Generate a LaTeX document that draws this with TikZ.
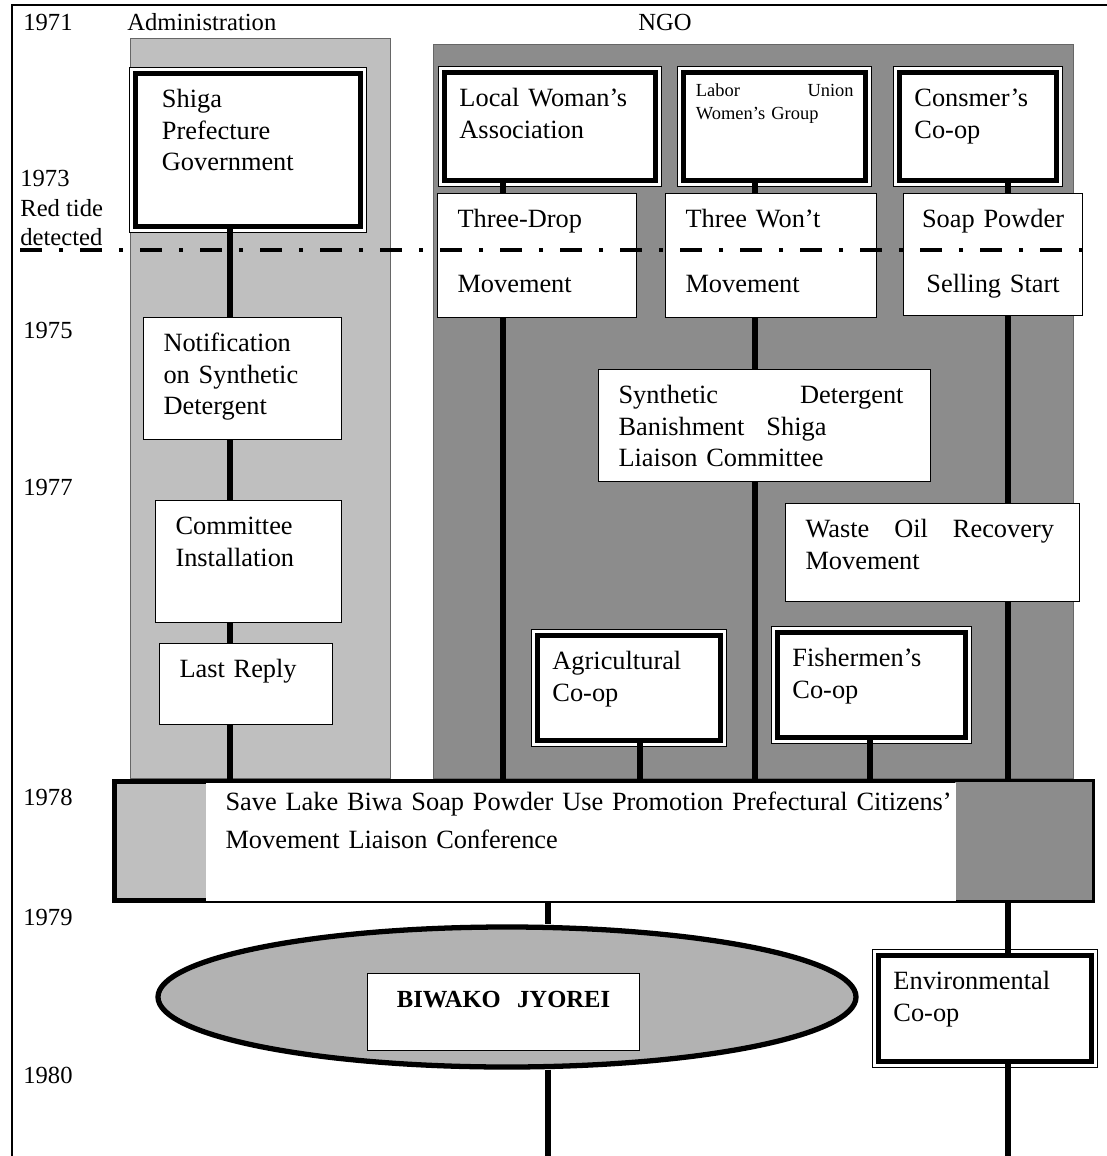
\documentclass[tikz,border=0pt]{standalone}
\usepackage{fontspec}
\setmainfont{Liberation Serif}
\usetikzlibrary{shapes.geometric}
\colorlet{admshade}{black!25}
\colorlet{ngoshade}{black!45}
\colorlet{ovalshade}{black!30}

\begin{document}
\begin{tikzpicture}[x=0.2mm, y=-0.2mm, font=\fontsize{15}{18}\selectfont]
  \useasboundingbox (0,0) rectangle (1107,1156);
  \tikzstyle{head}=[anchor=west, inner sep=0pt, font=\fontsize{14}{17}\selectfont]
  \tikzstyle{cell}=[draw, line width=0.6pt, fill=white, anchor=north west, align=left,
      inner xsep=4mm, inner ysep=3.3mm, text height=10pt]
  \tikzstyle{orgbox}=[cell, line width=2.8pt, inner xsep=3mm,
      preaction={draw, line width=7.4pt}, preaction={draw=white, line width=6.3pt}]
  \tikzstyle{link}=[line width=3pt]

  % frame and the two columns
  \draw[line width=0.6pt] (12,1156) -- (12,5) -- (1107,5);
  \filldraw[fill=admshade, draw=black!60, line width=0.4pt] (130,38) rectangle (390,778);
  \filldraw[fill=ngoshade, draw=black!60, line width=0.4pt] (433,44) rectangle (1073,778);

  % headings and years
  \node[head] (adm) at (127,22) {Administration};
  \node[head, anchor=center] (ngo) at (665,22) {NGO};
  \foreach \yr/\yy in {1971/22, 1975/330, 1977/487, 1978/797, 1979/917, 1980/1075}
    \node[head] (y\yr) at (23,\yy) {\yr};
  \node[head, align=left] (tide) at (20,208) {1973\\Red tide\\detected};

  % administration
  \node[orgbox, inner xsep=5.3mm, text width=34.4mm, text depth=20.5mm] (shiga) at (133,71) {Shiga\\Prefecture\\Government};
  \node[cell, text width=31.6mm, text depth=14.3mm] (notif) at (143,317) {Notification\\on Synthetic\\Detergent};
  \node[cell, text width=29.2mm, text depth=14.3mm] (comm) at (155,500) {Committee\\Installation};
  \node[cell, text width=26.6mm, text depth=6.1mm] (last) at (159,643) {Last Reply};

  % NGO
  \node[orgbox, text width=36.2mm, text depth=11.5mm] (lwa) at (442,70) {Local Woman’s\\Association};
  \node[orgbox, inner xsep=2.5mm, inner ysep=2mm, text height=8pt, text width=31.4mm, text depth=14.8mm,
      font=\fontsize{10.5}{13}\selectfont] (labor) at (681,70) {\mbox{Labor\hspace{13.5mm}Union}\\Women’s Group};
  \node[orgbox, text width=25.4mm, text depth=11.5mm] (coop) at (897,70) {Consmer’s\\Co-op};
  \node[cell, text width=31.8mm, text depth=14.7mm] (tdm) at (437,193) {Three-Drop\\[19pt]Movement};
  \node[cell, text width=34.2mm, text depth=14.7mm] (twm) at (665,193) {Three Won’t\\[19pt]Movement};
  \node[cell, align=center, inner xsep=2mm, text width=31.8mm, text depth=14.3mm] (ssp) at (903,193) {Soap Powder\\[19pt]Selling Start};
  \node[cell, text width=58.4mm, text depth=12.3mm] (sdb) at (598,369) {\mbox{Synthetic\hspace{16.4mm}Detergent}\\Banishment\hspace{4.4mm}Shiga\\Liaison Committee};
  \node[cell, text width=50.8mm, text depth=9.5mm] (waste) at (785,503) {\mbox{Waste\hspace{5mm}Oil\hspace{5mm}Recovery}\\Movement};
  \node[orgbox, text width=30.6mm, text depth=10.9mm] (agri) at (535,633) {Agricultural\\Co-op};
  \node[orgbox, text width=31.6mm, text depth=10.9mm] (fish) at (775,630) {Fishermen's\\Co-op};

  % conference
  \node[draw, line width=3pt, fill=admshade, anchor=north west, inner sep=0pt,
      minimum width=195.5mm, minimum height=23.7mm] (conf) at (112,779) {};
  \fill[ngoshade] (955,782) rectangle (1092,900);
  \node[cell, draw=none, inner ysep=2.1mm, text width=142mm, text depth=15.9mm,
      font=\fontsize{15}{21.5}\selectfont] (conftext) at (205,782)
      {\mbox{Save Lake Biwa Soap Powder Use Promotion Prefectural Citizens’}\\Movement Liaison Conference};

  % ordinance and environmental co-op
  \node[ellipse, draw, line width=3pt, fill=ovalshade, inner sep=0pt,
      minimum width=139.6mm, minimum height=28mm] (biwa) at (507,997) {};
  \node[cell, align=center, text width=46.4mm, text depth=5.3mm,
      font=\fontsize{14}{18}\selectfont\bfseries] (biwatext) at (367,973) {BIWAKO\ \ JYOREI};
  \node[orgbox, text width=36.6mm, text depth=11.1mm] (env) at (876,953) {Environmental\\Co-op};

  % connectors
  \coordinate (cA) at (230,0);
  \coordinate (cB) at (503,0);
  \coordinate (cC) at (755,0);
  \coordinate (cD) at (1008,0);
  \coordinate (cE) at (640,0);
  \coordinate (cF) at (870,0);
  \coordinate (cG) at (548,0);
  \coordinate (endL) at (548,1156);
  \coordinate (endR) at (1008,1156);
  \foreach \a/\b/\c in {shiga/notif/cA, notif/comm/cA, comm/last/cA, last/conf/cA,
      lwa/tdm/cB, tdm/conf/cB, labor/twm/cC, twm/sdb/cC, sdb/conf/cC,
      coop/ssp/cD, ssp/waste/cD, waste/conf/cD, agri/conf/cE, fish/conf/cF,
      conf/biwa/cG, conf/env/cD}
    \draw[link] (\a.south -| \c) -- (\b.north -| \c);
  \draw[link] (biwa.south -| cG) -- (endL);
  \draw[link] (env.south -| cD) -- (endR);

  % red tide line
  \coordinate (tideL) at (20,250);
  \coordinate (tideR) at (1093,250);
  \draw[line width=2.3pt, dash pattern=on 4.4mm off 3.4mm on 0.8mm off 3.4mm] (tideL) -- (tideR);
\end{tikzpicture}
\end{document}
